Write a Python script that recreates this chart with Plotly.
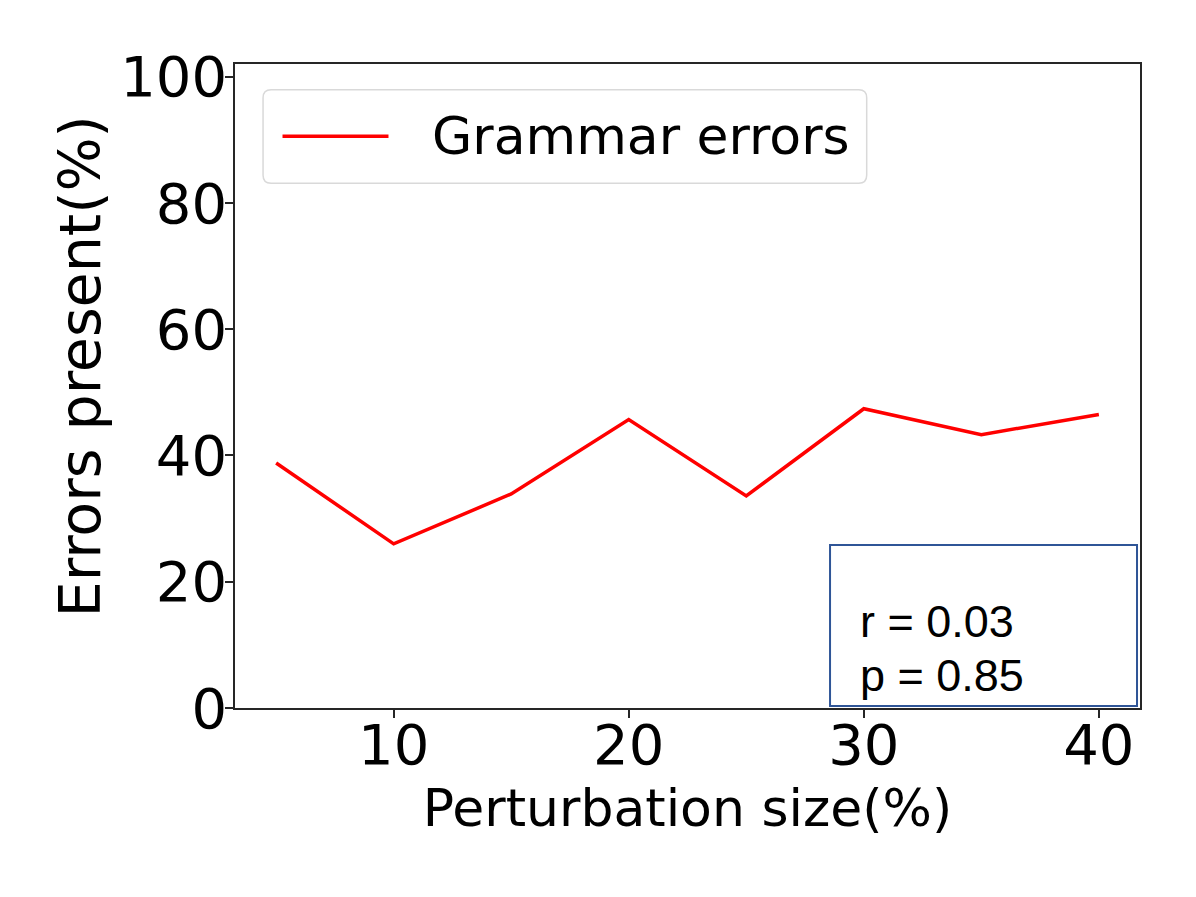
import plotly.graph_objects as go

# perturbation size (%) vs share of outputs with grammar errors (%)
perturbation = [5, 10, 15, 20, 25, 30, 35, 40]
grammar_errors = [38.8, 26.0, 33.9, 45.7, 33.6, 47.4, 43.3, 46.5]
x_ticks = [10, 20, 30, 40]
y_ticks = [0, 20, 40, 60, 80, 100]
legend_label = "Grammar errors"
stats_lines = ["r = 0.03", "p = 0.85"]

font_main = "DejaVu Sans"
PW, PH = 905.0, 644.0  # plot area size in px


def rounded_box(x0, y0, x1, y1, r=8):
    rx, ry = r / PW, r / PH
    return (f"M{x0 + rx},{y0} L{x1 - rx},{y0} Q{x1},{y0} {x1},{y0 + ry} "
            f"L{x1},{y1 - ry} Q{x1},{y1} {x1 - rx},{y1} "
            f"L{x0 + rx},{y1} Q{x0},{y1} {x0},{y1 - ry} "
            f"L{x0},{y0 + ry} Q{x0},{y0} {x0 + rx},{y0} Z")


fig = go.Figure()
fig.add_trace(go.Scatter(x=perturbation, y=grammar_errors, mode="lines",
                         name=legend_label, line=dict(color="#ff0000", width=3.5),
                         showlegend=False))

axis_common = dict(showline=True, linecolor="#262626", linewidth=1.5, mirror=True,
                   ticks="outside", ticklen=8, tickwidth=1.5, tickcolor="#262626",
                   showgrid=False, zeroline=False,
                   tickfont=dict(family=font_main, size=56, color="black"))

fig.update_xaxes(range=[3.25, 41.75], tickvals=x_ticks, ticklabelstandoff=-21,
                 title=dict(text="Perturbation size(%)", standoff=14,
                            font=dict(family=font_main, size=52, color="black")),
                 **axis_common)
fig.update_yaxes(range=[0, 102], tickvals=y_ticks, ticklabelstandoff=-13, **axis_common)

fig.add_annotation(xref="paper", yref="paper", x=-0.171, y=0.531, textangle=-90,
                   xanchor="center", yanchor="middle", text="Errors present(%)", showarrow=False,
                   font=dict(family=font_main, size=57, color="black"))

# legend drawn by hand so the sample line has matplotlib's length
fig.add_shape(type="path", xref="paper", yref="paper", path=rounded_box(0.031, 0.815, 0.698, 0.96),
              line=dict(color="#d9d9d9", width=1.5), fillcolor="white", layer="above")
fig.add_shape(type="line", xref="paper", yref="paper", x0=0.0525, x1=0.1696, y0=0.888, y1=0.888,
              line=dict(color="#ff0000", width=3.5), layer="above")
fig.add_annotation(xref="paper", yref="paper", x=0.2155, y=0.888, xanchor="left", yanchor="middle",
                   text=legend_label, showarrow=False,
                   font=dict(family=font_main, size=52, color="black"))

# correlation box
fig.add_shape(type="rect", xref="paper", yref="paper", x0=0.6575, x1=0.9967, y0=0.003, y1=0.253,
              line=dict(color="#2f5597", width=2), fillcolor="white", layer="above")
for i, txt in enumerate(stats_lines):
    fig.add_annotation(xref="paper", yref="paper", x=0.688, y=0.134 - i * 0.084,
                       xanchor="left", yanchor="middle", text=txt, showarrow=False,
                       font=dict(family="Liberation Sans", size=45, color="black"))

# page body adds an 8px offset, so the margins are shifted to compensate
fig.update_layout(width=1196, height=897, plot_bgcolor="white", paper_bgcolor="white",
                  margin=dict(l=227, r=64, t=56, b=197))

fig.write_html("out.html")
